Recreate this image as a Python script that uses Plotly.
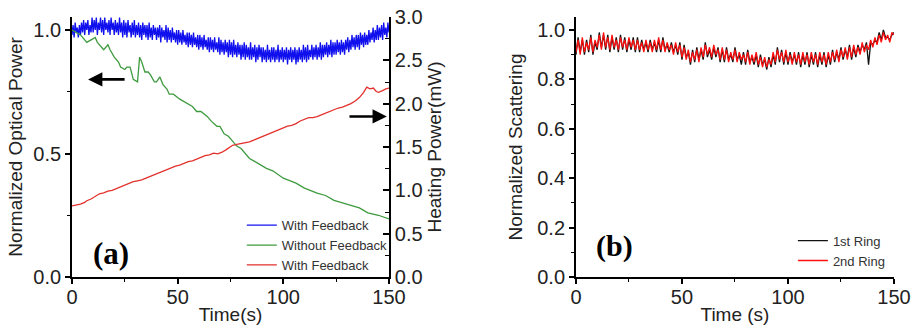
import plotly.graph_objects as go

# ---------------- data: panel (a) ----------------
t_blue = [i / 2 for i in range(301)]   # sampling times, 0.5 s step
with_feedback_power = [
    0.98, 1.02, 0.97, 1.03, 0.99, 1.01, 0.97, 1.02, 0.98, 1.03,
    0.99, 1.04, 0.98, 1.03, 1.00, 1.04, 0.98, 1.02, 0.99, 1.05,
    0.99, 1.04, 1.00, 1.05, 0.98, 1.03, 1.00, 1.05, 0.99, 1.04,
    0.98, 1.05, 1.00, 1.03, 0.99, 1.04, 0.98, 1.05, 1.00, 1.03,
    0.98, 1.04, 0.99, 1.03, 0.98, 1.05, 0.99, 1.03, 0.97, 1.04,
    0.98, 1.03, 0.97, 1.04, 0.99, 1.02, 0.97, 1.03, 0.98, 1.04,
    0.97, 1.02, 0.98, 1.03, 0.97, 1.02, 0.96, 1.03, 0.98, 1.02,
    0.97, 1.02, 0.96, 1.03, 0.97, 1.01, 0.96, 1.02, 0.98, 1.01,
    0.96, 1.01, 0.97, 1.02, 0.95, 1.01, 0.97, 1.00, 0.96, 1.02,
    0.95, 1.01, 0.96, 1.00, 0.95, 1.01, 0.96, 0.99, 0.95, 1.00,
    0.94, 1.00, 0.95, 0.99, 0.94, 1.00, 0.95, 0.98, 0.94, 0.99,
    0.93, 0.99, 0.94, 0.98, 0.93, 0.99, 0.94, 0.97, 0.93, 0.98,
    0.92, 0.98, 0.93, 0.97, 0.92, 0.98, 0.93, 0.96, 0.92, 0.97,
    0.91, 0.97, 0.92, 0.96, 0.91, 0.97, 0.92, 0.95, 0.91, 0.97,
    0.90, 0.96, 0.91, 0.95, 0.90, 0.96, 0.91, 0.95, 0.89, 0.96,
    0.90, 0.95, 0.89, 0.96, 0.90, 0.94, 0.89, 0.95, 0.90, 0.94,
    0.88, 0.94, 0.89, 0.95, 0.88, 0.94, 0.89, 0.93, 0.88, 0.95,
    0.88, 0.93, 0.89, 0.94, 0.87, 0.93, 0.88, 0.94, 0.89, 0.93,
    0.87, 0.93, 0.88, 0.92, 0.87, 0.94, 0.88, 0.92, 0.87, 0.93,
    0.88, 0.93, 0.87, 0.92, 0.88, 0.94, 0.87, 0.92, 0.88, 0.93,
    0.87, 0.92, 0.88, 0.93, 0.86, 0.92, 0.88, 0.93, 0.87, 0.92,
    0.88, 0.93, 0.86, 0.92, 0.87, 0.93, 0.88, 0.92, 0.87, 0.94,
    0.88, 0.93, 0.87, 0.94, 0.88, 0.92, 0.89, 0.94, 0.88, 0.93,
    0.89, 0.94, 0.88, 0.93, 0.89, 0.95, 0.88, 0.94, 0.89, 0.94,
    0.90, 0.95, 0.89, 0.94, 0.90, 0.96, 0.89, 0.95, 0.90, 0.95,
    0.90, 0.96, 0.91, 0.95, 0.90, 0.96, 0.91, 0.95, 0.90, 0.96,
    0.92, 0.97, 0.91, 0.96, 0.92, 0.98, 0.93, 0.97, 0.92, 0.98,
    0.93, 0.98, 0.92, 0.99, 0.94, 0.98, 0.93, 0.99, 0.94, 0.98,
    0.94, 1.00, 0.95, 0.99, 0.96, 1.01, 0.95, 1.00, 0.96, 1.02,
    0.96, 1.01, 0.97, 1.02, 0.96, 1.03, 0.98, 1.01, 0.97, 1.03,
    0.99,
]

t_green = [0, 2, 4, 5, 7, 9, 11, 12, 13, 15, 17, 18, 20, 22, 23, 25, 26, 27.5,
           29, 31, 32, 33, 34.5, 36, 37, 39, 40, 41.6, 43, 45, 46, 48, 51, 53,
           55, 57, 59, 61, 64, 66, 68.6, 70, 72, 74, 76, 78, 80, 82, 84, 86, 88,
           90, 92, 95, 98, 100, 103, 106, 110, 113, 116, 120, 124, 128, 132,
           136, 140, 145, 150]
without_feedback_power = [1.00, 0.99, 0.98, 0.97, 0.95, 0.96, 0.97, 0.95, 0.94,
                          0.92, 0.94, 0.92, 0.89, 0.87, 0.85, 0.84, 0.85, 0.85,
                          0.80, 0.79, 0.89, 0.87, 0.83, 0.83, 0.82, 0.79, 0.79,
                          0.81, 0.78, 0.76, 0.74, 0.74, 0.72, 0.71, 0.70, 0.69,
                          0.67, 0.67, 0.65, 0.63, 0.61, 0.61, 0.58, 0.57, 0.55,
                          0.53, 0.52, 0.50, 0.48, 0.47, 0.46, 0.45, 0.44, 0.43,
                          0.41, 0.40, 0.39, 0.38, 0.36, 0.35, 0.34, 0.33, 0.31,
                          0.30, 0.29, 0.28, 0.26, 0.25, 0.235]

t_red = [0, 2, 4, 6, 7, 9, 11, 13, 15, 17, 19, 21, 23, 25, 27, 29, 31, 33, 35,
         37, 39, 41, 43, 45, 47, 49, 51, 53, 55, 57, 59, 61, 63, 65, 67, 69, 71,
         73, 76, 78, 80, 82, 84, 86, 88, 90, 92, 94, 96, 98, 100, 102, 104, 106,
         108, 110, 112, 114, 116, 118, 120, 122, 124, 126, 128, 130, 132, 134,
         136, 138, 139.5, 141, 142.6, 144, 145, 147, 148.5, 150]
heating_power = [0.82, 0.83, 0.84, 0.86, 0.88, 0.90, 0.93, 0.96, 0.97, 0.99,
                 1.00, 1.02, 1.04, 1.06, 1.08, 1.10, 1.11, 1.12, 1.14, 1.16,
                 1.18, 1.20, 1.22, 1.24, 1.26, 1.28, 1.29, 1.31, 1.33, 1.34,
                 1.36, 1.38, 1.40, 1.41, 1.43, 1.42, 1.44, 1.47, 1.52, 1.53,
                 1.54, 1.55, 1.56, 1.58, 1.60, 1.62, 1.64, 1.66, 1.68, 1.70,
                 1.72, 1.74, 1.75, 1.77, 1.80, 1.82, 1.84, 1.84, 1.85, 1.87,
                 1.89, 1.91, 1.93, 1.95, 1.96, 1.98, 2.00, 2.03, 2.07, 2.13,
                 2.19, 2.17, 2.18, 2.14, 2.13, 2.15, 2.17, 2.18]

# ---------------- data: panel (b) ----------------
t_ring = list(range(0, 151))
ring1 = [
    0.90, 0.97, 0.91, 0.96, 0.90, 0.96, 0.91, 0.98, 0.90, 0.95,
    0.92, 0.99, 0.93, 0.98, 0.92, 0.98, 0.91, 0.97, 0.92, 0.97,
    0.91, 0.98, 0.92, 0.97, 0.91, 0.96, 0.92, 0.97, 0.91, 0.97,
    0.91, 0.96, 0.92, 0.95, 0.91, 0.96, 0.92, 0.95, 0.91, 0.96,
    0.91, 0.97, 0.92, 0.94, 0.91, 0.95, 0.91, 0.94, 0.90, 0.95,
    0.88, 0.94, 0.89, 0.91, 0.86, 0.92, 0.87, 0.93, 0.88, 0.92,
    0.88, 0.95, 0.89, 0.92, 0.88, 0.93, 0.89, 0.93, 0.87, 0.92,
    0.87, 0.93, 0.88, 0.90, 0.87, 0.93, 0.88, 0.90, 0.86, 0.91,
    0.86, 0.92, 0.87, 0.89, 0.86, 0.90, 0.85, 0.90, 0.86, 0.88,
    0.84, 0.89, 0.85, 0.90, 0.86, 0.93, 0.87, 0.92, 0.86, 0.91,
    0.86, 0.91, 0.87, 0.90, 0.86, 0.91, 0.85, 0.90, 0.86, 0.91,
    0.85, 0.90, 0.86, 0.91, 0.85, 0.90, 0.86, 0.91, 0.85, 0.90,
    0.86, 0.92, 0.87, 0.91, 0.88, 0.93, 0.88, 0.92, 0.89, 0.94,
    0.88, 0.93, 0.89, 0.94, 0.91, 0.94, 0.92, 0.95, 0.86, 0.95,
    0.94, 0.96, 0.95, 0.99, 0.96, 1.00, 0.97, 0.97, 0.96, 0.98,
    0.99,
]
ring2 = [
    0.91, 0.96, 0.90, 0.97, 0.91, 0.95, 0.92, 0.97, 0.91, 0.96,
    0.93, 0.98, 0.92, 0.99, 0.93, 0.97, 0.92, 0.98, 0.93, 0.96,
    0.92, 0.97, 0.93, 0.96, 0.92, 0.97, 0.93, 0.96, 0.92, 0.96,
    0.92, 0.95, 0.91, 0.96, 0.92, 0.95, 0.91, 0.96, 0.92, 0.97,
    0.92, 0.96, 0.91, 0.95, 0.92, 0.94, 0.90, 0.95, 0.91, 0.94,
    0.89, 0.93, 0.88, 0.92, 0.87, 0.91, 0.88, 0.92, 0.87, 0.93,
    0.89, 0.94, 0.90, 0.93, 0.89, 0.94, 0.90, 0.92, 0.88, 0.93,
    0.88, 0.92, 0.87, 0.91, 0.88, 0.92, 0.87, 0.91, 0.88, 0.90,
    0.87, 0.91, 0.86, 0.90, 0.87, 0.91, 0.86, 0.89, 0.85, 0.89,
    0.85, 0.88, 0.86, 0.91, 0.87, 0.92, 0.88, 0.91, 0.87, 0.92,
    0.87, 0.90, 0.86, 0.91, 0.87, 0.90, 0.86, 0.91, 0.87, 0.90,
    0.86, 0.91, 0.87, 0.90, 0.86, 0.91, 0.87, 0.90, 0.86, 0.91,
    0.87, 0.91, 0.88, 0.92, 0.87, 0.92, 0.89, 0.93, 0.88, 0.93,
    0.89, 0.94, 0.90, 0.93, 0.90, 0.95, 0.91, 0.94, 0.92, 0.96,
    0.93, 0.97, 0.94, 0.98, 0.95, 0.99, 0.96, 0.98, 0.95, 0.99,
    0.98,
]

x_ticks = [0, 50, 100, 150]
x_tick_labels = ["0", "50", "100", "150"]
ya_ticks = [0, 0.5, 1.0]
ya_tick_labels = ["0.0", "0.5", "1.0"]
yr_ticks = [0, 0.5, 1.0, 1.5, 2.0, 2.5, 3.0]
yr_tick_labels = ["0.0", "0.5", "1.0", "1.5", "2.0", "2.5", "3.0"]
yb_ticks = [0, 0.2, 0.4, 0.6, 0.8, 1.0]
yb_tick_labels = ["0.0", "0.2", "0.4", "0.6", "0.8", "1.0"]

FONT = "Liberation Sans, Arial, sans-serif"
TICKFONT = dict(family=FONT, size=20, color="#222222")
TITLEFONT = dict(family=FONT, size=19, color="#222222")

fig = go.Figure()
fig.add_trace(go.Scatter(x=t_blue, y=with_feedback_power, mode="lines",
                         name="With Feedback", line=dict(color="#1010ee", width=1.3),
                         xaxis="x", yaxis="y", legend="legend"))
fig.add_trace(go.Scatter(x=t_green, y=without_feedback_power, mode="lines",
                         name="Without Feedback", line=dict(color="#3f9a3f", width=1.3),
                         xaxis="x", yaxis="y", legend="legend"))
fig.add_trace(go.Scatter(x=t_red, y=heating_power, mode="lines",
                         name="With Feedback", line=dict(color="#e2312d", width=1.3),
                         xaxis="x", yaxis="y2", legend="legend"))
fig.add_trace(go.Scatter(x=t_ring, y=ring1, mode="lines",
                         name="1st Ring", line=dict(color="#111111", width=1.3),
                         xaxis="x2", yaxis="y3", legend="legend2"))
fig.add_trace(go.Scatter(x=t_ring, y=ring2, mode="lines",
                         name="2nd Ring", line=dict(color="#ff1010", width=1.3),
                         xaxis="x2", yaxis="y3", legend="legend2"))

axis_common = dict(showline=True, linecolor="black", linewidth=1.8,
                   showgrid=False, zeroline=False, ticks="outside",
                   ticklen=5, tickwidth=1.5, tickcolor="black",
                   tickfont=TICKFONT, mirror=False, automargin=False,
                   ticklabeloverflow="allow")
minor_common = dict(ticks="outside", ticklen=3, tickwidth=1.3, tickcolor="black", showgrid=False)

fig.update_layout(
    template="none",
    width=911, height=325,
    margin=dict(l=72, r=17, t=17, b=48, autoexpand=False),
    paper_bgcolor="white", plot_bgcolor="white",
    showlegend=True,
    xaxis=dict(domain=[0, 0.3856], range=[0, 150], anchor="y",
               tickvals=x_ticks, ticktext=x_tick_labels, ticklabelstandoff=-4,
               minor=dict(dtick=25, tick0=0, **minor_common),
               title=dict(text="Time(s)", font=TITLEFONT, standoff=7),
               **axis_common),
    yaxis=dict(domain=[0, 1], range=[0, 1.0526], anchor="x",
               tickvals=ya_ticks, ticktext=ya_tick_labels,
               minor=dict(dtick=0.25, tick0=0, **minor_common),
               title=dict(text="Normalized Optical Power", font=TITLEFONT, standoff=6),
               **axis_common),
    yaxis2=dict(range=[0, 3.0], overlaying="y", side="right", anchor="x",
                tickvals=yr_ticks, ticktext=yr_tick_labels,
                showline=True, linecolor="black", linewidth=1.8,
                showgrid=False, zeroline=False, ticks="inside", automargin=False,
                ticklabeloverflow="allow",
                ticklen=6, tickwidth=1.5, tickcolor="black", tickfont=TICKFONT,
                minor=dict(dtick=0.25, tick0=0, ticks="inside", ticklen=4,
                           tickwidth=1.3, tickcolor="black", showgrid=False),
                title=dict(text="Heating Power(mW)", font=TITLEFONT, standoff=6)),
    xaxis2=dict(domain=[0.6131, 1.0], range=[0, 150], anchor="y3",
                tickvals=x_ticks, ticktext=x_tick_labels, ticklabelstandoff=-4,
                minor=dict(dtick=25, tick0=0, **minor_common),
                title=dict(text="Time (s)", font=TITLEFONT, standoff=7),
                **axis_common),
    yaxis3=dict(domain=[0, 1], range=[0, 1.0526], anchor="x2",
                tickvals=yb_ticks, ticktext=yb_tick_labels,
                minor=dict(dtick=0.1, tick0=0, **minor_common),
                title=dict(text="Normalized Scattering", font=TITLEFONT, standoff=10),
                **axis_common),
    legend=dict(x=0.2066, y=0.257, xanchor="left", yanchor="top",
                bgcolor="rgba(0,0,0,0)", borderwidth=0,
                font=dict(family=FONT, size=13, color="#333333"),
                tracegroupgap=0, itemwidth=30),
    legend2=dict(x=0.877, y=0.1975, xanchor="left", yanchor="top",
                 bgcolor="rgba(0,0,0,0)", borderwidth=0,
                 font=dict(family=FONT, size=13, color="#333333"),
                 tracegroupgap=0, itemwidth=30),
)

# arrows indicating which axis each curve belongs to
fig.add_annotation(x=7.6, y=0.80, ax=25.6, ay=0.80, xref="x", yref="y",
                   axref="x", ayref="y", text="", showarrow=True,
                   arrowhead=2, arrowsize=1.1, arrowwidth=2.6, arrowcolor="black")
fig.add_annotation(x=149, y=0.65, ax=130.6, ay=0.65, xref="x", yref="y",
                   axref="x", ayref="y", text="", showarrow=True,
                   arrowhead=2, arrowsize=1.1, arrowwidth=2.6, arrowcolor="black")

# panel labels
fig.add_annotation(x=18.5, y=0.095, xref="x", yref="y", text="<b>(a)</b>",
                   showarrow=False, xanchor="center", yanchor="middle",
                   font=dict(family="Liberation Serif, Times New Roman, serif", size=31, color="black"))
fig.add_annotation(x=18.4, y=0.125, xref="x2", yref="y3", text="<b>(b)</b>",
                   showarrow=False, xanchor="center", yanchor="middle",
                   font=dict(family="Liberation Serif, Times New Roman, serif", size=30, color="black"))

# remove the default page margin so the figure sits at the window's top-left corner
fig.write_html("out.html", config={"displayModeBar": False},
               post_script="document.body.style.margin='0';")
